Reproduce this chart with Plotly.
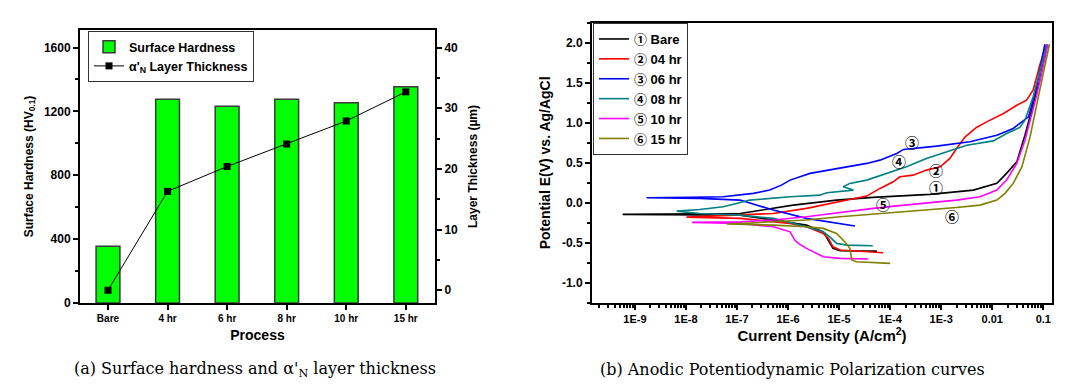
import numpy as np
import plotly.graph_objects as go

# ---------------- Panel (a) data ----------------
processes = ["Bare", "4 hr", "6 hr", "8 hr", "10 hr", "15 hr"]
hardness = [356, 1276, 1232, 1276, 1255, 1355]          # HV0.1
thickness = [0.0, 16.3, 20.4, 24.1, 27.9, 32.7]         # um

# ---------------- Panel (b) data (log10 current density, potential) ----------------
bare_logi = [-4.26, -4.98, -5.12, -5.21, -5.31, -5.64, -6.55, -6.94, -9.24, -6.94, -5.90,
             -5.05, -4.34, -3.22, -2.37, -1.91, -1.72, -1.52, -1.36, -1.07, -0.93]
bare_E = [-0.604, -0.600, -0.570, -0.466, -0.363, -0.279, -0.191, -0.154, -0.145, -0.133, -0.029,
          0.034, 0.068, 0.105, 0.159, 0.243, 0.368, 0.512, 0.846, 1.534, 1.971]

hr04_logi = [-4.14, -4.98, -5.12, -5.21, -5.31, -5.64, -5.96, -6.94, -7.99, -6.94, -6.29,
             -5.64, -4.98, -4.46, -4.20, -3.94, -3.81, -3.55, -3.29, -3.02, -2.83, -2.70,
             -2.53, -2.31, -2.11, -1.78, -1.52, -1.33, -1.20, -1.07, -0.95]
hr04_E = [-0.625, -0.591, -0.550, -0.445, -0.383, -0.300, -0.258, -0.195, -0.179, -0.154, -0.133,
          -0.070, 0.013, 0.084, 0.180, 0.263, 0.325, 0.346, 0.409, 0.450, 0.555, 0.680,
          0.825, 0.943, 1.013, 1.118, 1.221, 1.284, 1.409, 1.721, 1.971]

hr06_logi = [-4.69, -5.64, -6.29, -6.94, -7.73, -8.77, -7.92, -7.27, -6.68, -6.36, -6.13,
             -5.96, -5.57, -5.18, -4.72, -4.46, -4.20, -3.87, -3.74, -3.09, -2.44, -1.91,
             -1.59, -1.42, -1.29, -1.13, -0.97]
hr06_E = [-0.291, -0.195, -0.091, 0.034, 0.055, 0.063, 0.068, 0.075, 0.118, 0.159, 0.221,
          0.284, 0.368, 0.409, 0.459, 0.493, 0.534, 0.618, 0.668, 0.709, 0.763, 0.846,
          0.930, 1.013, 1.075, 1.450, 1.984]

hr08_logi = [-4.34, -4.85, -5.05, -5.15, -5.31, -5.64, -6.29, -6.94, -7.73, -8.18, -7.73,
             -7.27, -7.01, -6.75, -5.96, -5.38, -5.24, -4.98, -4.72, -4.92, -4.79, -4.46,
             -4.07, -3.68, -3.29, -2.89, -2.50, -1.98, -1.72, -1.46, -1.36, -1.20, -1.03, -0.93]
hr08_E = [-0.538, -0.529, -0.508, -0.445, -0.363, -0.300, -0.195, -0.154, -0.133, -0.104, -0.083,
          -0.050, -0.008, 0.034, 0.075, 0.096, 0.125, 0.138, 0.159, 0.200, 0.243, 0.284,
          0.368, 0.450, 0.555, 0.638, 0.721, 0.775, 0.868, 0.943, 1.034, 1.325, 1.743, 1.984]

hr10_logi = [-4.43, -4.98, -5.31, -5.64, -5.80, -5.87, -5.96, -6.29, -6.94, -7.88, -6.94,
             -6.29, -5.64, -4.98, -4.33, -3.87, -3.35, -2.70, -2.24, -1.91, -1.72, -1.52,
             -1.36, -1.13, -0.91]
hr10_E = [-0.704, -0.695, -0.675, -0.570, -0.508, -0.466, -0.363, -0.300, -0.258, -0.245, -0.238,
          -0.216, -0.175, -0.120, -0.070, -0.038, -0.008, 0.034, 0.075, 0.159, 0.284, 0.493,
          0.784, 1.346, 1.984]

hr15_logi = [-4.00, -4.66, -4.75, -4.79, -4.89, -5.05, -5.31, -5.64, -6.29, -7.20, -6.94,
             -5.64, -4.98, -4.33, -3.35, -2.70, -2.24, -1.91, -1.75, -1.59, -1.42, -1.26,
             -1.07, -0.88]
hr15_E = [-0.758, -0.738, -0.716, -0.570, -0.488, -0.383, -0.320, -0.300, -0.279, -0.266, -0.258,
          -0.216, -0.175, -0.141, -0.098, -0.058, -0.029, 0.034, 0.118, 0.243, 0.450, 0.825,
          1.409, 1.984]

curve_names = ["\u2460 Bare", "\u2461 04 hr", "\u2462 06 hr", "\u2463 08 hr", "\u2464 10 hr", "\u2465 15 hr"]
curve_colors = ["#000000", "#FF0000", "#0000FF", "#008080", "#FF00FF", "#808000"]
curves = [(bare_logi, bare_E), (hr04_logi, hr04_E), (hr06_logi, hr06_E),
          (hr08_logi, hr08_E), (hr10_logi, hr10_E), (hr15_logi, hr15_E)]

# curve labels (log10 i, E)
label_text = ["\u2462", "\u2463", "\u2461", "\u2460", "\u2464", "\u2465"]
label_logi = [-3.57, -3.83, -3.10, -3.11, -4.14, -2.79]
label_E = [0.75, 0.51, 0.396, 0.19, -0.03, -0.175]

x_tickvals = [1e-9, 1e-8, 1e-7, 1e-6, 1e-5, 1e-4, 1e-3, 1e-2, 1e-1]
x_ticktext = ["1E-9", "1E-8", "1E-7", "1E-6", "1E-5", "1E-4", "1E-3", "0.01", "0.1"]
y_tickvals = [2.0, 1.5, 1.0, 0.5, 0.0, -0.5, -1.0]
y_ticktext = ["2.0", "1.5", "1.0", "0.5", "0.0", "-0.5", "-1.0"]

FONT = "Liberation Sans, Arial, Noto Sans CJK SC, sans-serif"
CAP_FONT = "DejaVu Serif, serif"

# page body has an 8px default margin: the figure is placed at (8, 8)
OX, OY = 8, 8
W, H = 1077 - OX, 388 - OY


def px(x):
    return (x - OX) / W


def py(y):
    return 1 - (y - OY) / H


fig = go.Figure()

fig.add_trace(go.Bar(
    x=processes, y=hardness, name="Surface Hardness", width=0.4,
    marker=dict(color="#00FF00", line=dict(color="#3a3a3a", width=1.5)),
    xaxis="x", yaxis="y", legend="legend"))
fig.add_trace(go.Scatter(
    x=processes, y=thickness, name="\u03b1'<sub>N</sub> Layer Thickness", mode="lines+markers",
    line=dict(color="#000000", width=1), marker=dict(symbol="square", size=7, color="#000000"),
    xaxis="x", yaxis="y2", legend="legend"))

for (li, e), nm, col in zip(curves, curve_names, curve_colors):
    fig.add_trace(go.Scatter(
        x=10 ** np.array(li), y=e, name=nm, mode="lines",
        line=dict(color=col, width=1.6), xaxis="x2", yaxis="y3", legend="legend2"))

for t, lx, ly in zip(label_text, label_logi, label_E):
    fig.add_annotation(x=lx, y=ly, xref="x2", yref="y3", text="<b>" + t + "</b>", showarrow=False,
                       font=dict(family=FONT, size=14, color="#000000"))

ax_common = dict(showgrid=False, zeroline=False, showline=True, linecolor="#000000",
                 linewidth=2, ticks="outside", ticklen=5, tickwidth=1.5, tickcolor="#000000",
                 automargin=False)

fig.update_layout(
    width=W, height=H, margin=dict(l=0, r=0, t=0, b=0, autoexpand=False),
    paper_bgcolor="white", plot_bgcolor="white",
    font=dict(family=FONT, color="#000000"),
    showlegend=True, bargap=0.6,
    xaxis=dict(domain=[px(80), px(435)], anchor="y", type="category", range=[-0.47, 5.49],
               mirror=True, **ax_common,
               tickfont=dict(size=10, weight="bold"),
               title=dict(text="Process", font=dict(size=14, weight="bold"), standoff=7)),
    yaxis=dict(domain=[py(303), py(30)], anchor="x", range=[0, 1710],
               tickvals=[0, 400, 800, 1200, 1600], mirror=False, **ax_common,
               minor=dict(ticks="outside", ticklen=3, dtick=200, tickcolor="#000000"),
               tickfont=dict(size=12, weight="bold"),
               title=dict(text="Surface Hardness (HV<sub>0.1</sub>)", font=dict(size=12, weight="bold"),
                          standoff=8)),
    yaxis2=dict(overlaying="y", side="right", anchor="x", range=[-2.1, 42.9],
                tickvals=[0, 10, 20, 30, 40], **ax_common,
                minor=dict(ticks="outside", ticklen=3, dtick=5, tickcolor="#000000"),
                tickfont=dict(size=12, weight="bold"),
                title=dict(text="Layer Thickness (\u00b5m)", font=dict(size=12, weight="bold"),
                           standoff=12)),
    xaxis2=dict(domain=[px(592), px(1052)], anchor="y3", type="log", range=[-9.84, -0.83],
                tickvals=x_tickvals, ticktext=x_ticktext, mirror=True, **ax_common,
                minor=dict(ticks="outside", ticklen=3, dtick="D1", tickcolor="#000000"),
                tickfont=dict(size=11, weight="bold"),
                title=dict(text="Current Density (A/cm<sup>2</sup>)", font=dict(size=15, weight="bold"),
                           standoff=3)),
    yaxis3=dict(domain=[py(302.7), py(23)], anchor="x2", range=[-1.25, 2.25],
                tickvals=y_tickvals, ticktext=y_ticktext, mirror=True, **ax_common,
                minor=dict(ticks="outside", ticklen=3, dtick=0.25, tickcolor="#000000"),
                tickfont=dict(size=12, weight="bold"),
                title=dict(text="Potential E(V) vs. Ag/AgCl", font=dict(size=14, weight="bold"),
                           standoff=8)),
    legend=dict(x=px(88), y=py(31), xanchor="left", yanchor="top",
                bordercolor="#333333", borderwidth=1, bgcolor="white",
                font=dict(size=12.5, weight="bold"), tracegroupgap=0, itemwidth=30),
    legend2=dict(x=px(593), y=py(23), xanchor="left", yanchor="top",
                 bordercolor="#333333", borderwidth=1, bgcolor="white",
                 font=dict(size=13, weight="bold"), tracegroupgap=0, itemwidth=30),
)

fig.add_annotation(x=px(255), y=py(369), xref="paper", yref="paper", showarrow=False,
                   xanchor="center", yanchor="middle",
                   text="(a) Surface hardness and \u03b1'<sub>N</sub> layer thickness",
                   font=dict(family=CAP_FONT, size=16, color="#000000"))
fig.add_annotation(x=px(792), y=py(369), xref="paper", yref="paper", showarrow=False,
                   xanchor="center", yanchor="middle",
                   text="(b) Anodic Potentiodynamic Polarization curves",
                   font=dict(family=CAP_FONT, size=16, color="#000000"))

fig.write_html("out.html")
